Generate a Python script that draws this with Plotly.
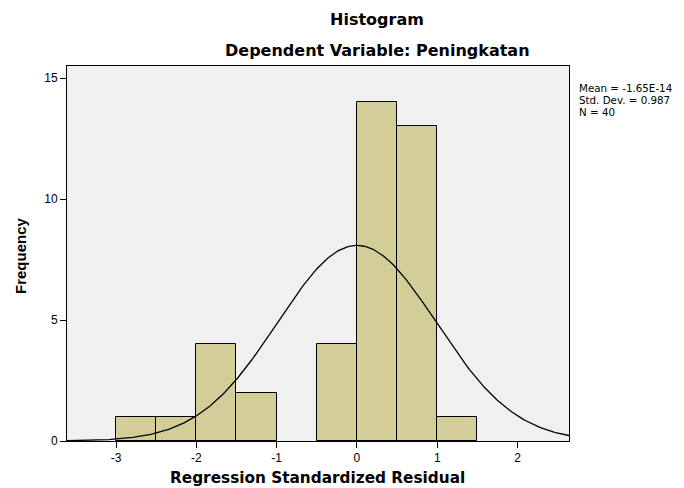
import numpy as np
import plotly.graph_objects as go

bin_left = [-3.0, -2.5, -2.0, -1.5, -0.5, 0.0, 0.5, 1.0]
bin_width = 0.5
counts = [1, 1, 4, 2, 4, 14, 13, 1]
mean_val = -1.65e-14
std_val = 0.987
n_val = 40
x_ticks = [-3, -2, -1, 0, 1, 2]
x_tick_text = ["-3", "-2", "-1", "0", "1", "2"]
y_ticks = [0, 5, 10, 15]
stats_lines = ["Mean = -1.65E-14", f"Std. Dev. = {std_val}", f"N = {n_val}"]

centers = [b + bin_width / 2 for b in bin_left]

fig = go.Figure()
fig.add_trace(go.Bar(x=centers, y=counts, width=bin_width,
                     marker=dict(color="#D3CE98", line=dict(color="black", width=1)),
                     showlegend=False, hoverinfo="skip"))

xs = np.linspace(-3.61, 2.64, 300)
ys = n_val * bin_width / (std_val * np.sqrt(2 * np.pi)) * np.exp(-0.5 * ((xs - mean_val) / std_val) ** 2)
fig.add_trace(go.Scatter(x=xs, y=ys, mode="lines", line=dict(color="black", width=1.3),
                         showlegend=False, hoverinfo="skip"))

# page offset of 8px (browser body margin); plot area in window px: x 67..569, y 66..441
PL, PR, PT, PB = 67, 569, 66, 441


def px(x):
    return (x - PL) / (PR - PL)


def py(y):
    return (PB - y) / (PB - PT)


fnt = "Liberation Sans, Arial, sans-serif"
wide = "DejaVu Sans, Verdana, sans-serif"

annotations = [
    dict(text="<b>Histogram</b>", x=px(377), y=py(19), xref="paper", yref="paper",
         showarrow=False, font=dict(size=16, family=wide), xanchor="center", yanchor="middle"),
    dict(text="<b>Dependent Variable: Peningkatan</b>", x=px(377), y=py(50),
         xref="paper", yref="paper", showarrow=False, font=dict(size=16, family=wide),
         xanchor="center", yanchor="middle"),
    dict(text="<b>Regression Standardized Residual</b>", x=px(317), y=py(478),
         xref="paper", yref="paper", showarrow=False, font=dict(size=15.3, family=wide),
         xanchor="center", yanchor="middle"),
    dict(text="<b>Frequency</b>", x=px(21), y=py(256), xref="paper", yref="paper",
         showarrow=False, font=dict(size=15, family=fnt), textangle=-90,
         xanchor="center", yanchor="middle"),
]
for i, line in enumerate(stats_lines):
    annotations.append(dict(text=line, x=px(577), y=py(88 + 12 * i), xref="paper", yref="paper",
                            showarrow=False, align="left", font=dict(size=10.3, family=wide),
                            xanchor="left", yanchor="middle"))

fig.update_layout(
    width=676, height=480,
    margin=dict(l=PL - 8, r=684 - PR, t=PT - 8, b=488 - PB),
    paper_bgcolor="white", plot_bgcolor="#F0F0F0",
    bargap=0,
    font=dict(family=fnt, size=12, color="black"),
    xaxis=dict(range=[-3.61, 2.64], tickvals=x_ticks, ticktext=x_tick_text, ticks="outside",
               ticklen=6, tickcolor="black", showgrid=False, zeroline=False, showline=True,
               linecolor="black", linewidth=1, mirror=True,
               tickfont=dict(size=12, family=fnt)),
    yaxis=dict(range=[0, 15.5], tickvals=y_ticks, ticks="outside", ticklen=6,
               tickcolor="black", showgrid=False, zeroline=False, showline=True,
               linecolor="black", linewidth=1, mirror=True,
               tickfont=dict(size=12, family=fnt)),
    annotations=annotations,
)
fig.write_html("out.html")
